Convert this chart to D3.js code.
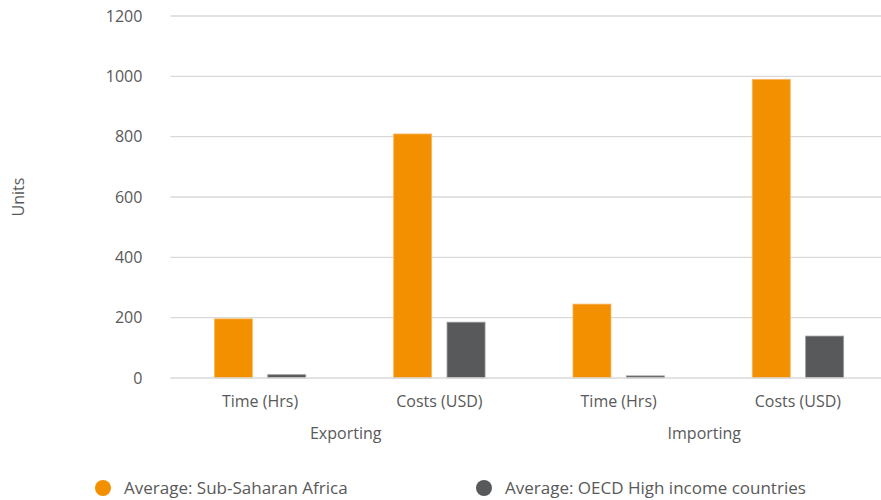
<!DOCTYPE html>
<html>
<head>
<meta charset="utf-8">
<script src="https://cdn.jsdelivr.net/npm/d3@7"></script>
<style>
  html, body { margin: 0; padding: 0; background: #ffffff; }
  svg { display: block; font-family: "Open Sans", "Noto Sans", sans-serif; }
</style>
</head>
<body>
<svg id="chart" width="881" height="500"></svg>
<script>
// Trade cost and time averages, grouped by direction
const groups = ["Exporting", "Importing"];
const categories = ["Exporting|Time (Hrs)", "Exporting|Costs (USD)", "Importing|Time (Hrs)", "Importing|Costs (USD)"];
const categoryLabels = ["Time (Hrs)", "Costs (USD)", "Time (Hrs)", "Costs (USD)"];
const seriesNames = ["Average: Sub-Saharan Africa", "Average: OECD High income countries"];
const subSaharanAfrica = [196, 809, 245, 990];
const oecdHighIncome = [11, 185, 7, 139];
const yTicks = [0, 200, 400, 600, 800, 1000, 1200];
const colors = ["#f39000", "#58595b"];
const strokeColors = ["#f7b766", "#9a9b9c"];

const svg = d3.select("#chart");
const W = 881, H = 500;
const margin = { top: 16, right: -6.6, bottom: 122, left: 170.4 };
const plotW = W - margin.left - margin.right;
const plotH = H - margin.top - margin.bottom;

const g = svg.append("g").attr("transform", `translate(${margin.left},${margin.top})`);

const y = d3.scaleLinear().domain([0, 1200]).range([plotH, 0]);
const x0 = d3.scaleBand().domain(categories).range([0, plotW]).padding(0);
const groupW = 91.4;
const x1 = d3.scaleBand()
  .domain(seriesNames)
  .range([(x0.bandwidth() - groupW) / 2, (x0.bandwidth() + groupW) / 2])
  .paddingInner(0.288)
  .paddingOuter(0);

// Horizontal gridlines
g.append("g")
  .selectAll("line")
  .data(yTicks.filter(d => d > 0))
  .join("line")
  .attr("x1", 0)
  .attr("x2", plotW)
  .attr("y1", d => y(d))
  .attr("y2", d => y(d))
  .attr("stroke", "#d9d9d9")
  .attr("stroke-width", 1.3);

// Y axis tick labels
const yAxis = d3.axisLeft(y).tickValues(yTicks).tickFormat(d3.format("d")).tickSize(0).tickPadding(28);
const yG = g.append("g").call(yAxis);
yG.select(".domain").remove();
yG.selectAll("text")
  .attr("fill", "#595959")
  .attr("font-size", 16)
  .attr("font-family", "'Open Sans', sans-serif");

// Y axis title
svg.append("text")
  .attr("transform", `translate(24,${margin.top + y(600)}) rotate(-90)`)
  .attr("text-anchor", "middle")
  .attr("fill", "#595959")
  .attr("font-size", 16)
  .text("Units");

// Bars
const rows = categories.map((c, i) => ({ cat: c, values: [subSaharanAfrica[i], oecdHighIncome[i]] }));
const catG = g.selectAll("g.cat")
  .data(rows)
  .join("g")
  .attr("class", "cat")
  .attr("transform", d => `translate(${x0(d.cat)},0)`);

catG.selectAll("rect")
  .data(d => d.values.map((v, k) => ({ name: seriesNames[k], value: v, k })))
  .join("rect")
  .attr("x", d => x1(d.name))
  .attr("width", x1.bandwidth())
  .attr("y", d => y(d.value))
  .attr("height", d => plotH - y(d.value))
  .attr("fill", d => colors[d.k])
  .attr("stroke", d => strokeColors[d.k])
  .attr("stroke-width", 0.8);

// Baseline
g.append("line")
  .attr("x1", 0)
  .attr("x2", plotW)
  .attr("y1", plotH)
  .attr("y2", plotH)
  .attr("stroke", "#d9d9d9")
  .attr("stroke-width", 1.3);

// Category labels
g.append("g")
  .selectAll("text")
  .data(categories)
  .join("text")
  .attr("x", d => x0(d) + x0.bandwidth() / 2)
  .attr("y", plotH + 29)
  .attr("text-anchor", "middle")
  .attr("fill", "#595959")
  .attr("font-size", 16)
  .text((d, i) => categoryLabels[i]);

// Group labels
g.append("g")
  .selectAll("text")
  .data(groups)
  .join("text")
  .attr("x", d => {
    const cs = categories.filter(c => c.startsWith(d + "|"));
    return (x0(cs[0]) + x0(cs[cs.length - 1]) + x0.bandwidth()) / 2 - 4;
  })
  .attr("y", plotH + 61)
  .attr("text-anchor", "middle")
  .attr("fill", "#595959")
  .attr("font-size", 16)
  .text(d => d);

// Legend
const legendX = [103, 484];
const legend = svg.append("g")
  .selectAll("g")
  .data(seriesNames)
  .join("g")
  .attr("transform", (d, i) => `translate(${legendX[i]},488)`);
legend.append("circle")
  .attr("r", 8)
  .attr("fill", (d, i) => colors[i]);
legend.append("text")
  .attr("x", 21)
  .attr("dy", "0.35em")
  .attr("fill", "#595959")
  .attr("font-size", 17)
  .text(d => d);
</script>
</body>
</html>
